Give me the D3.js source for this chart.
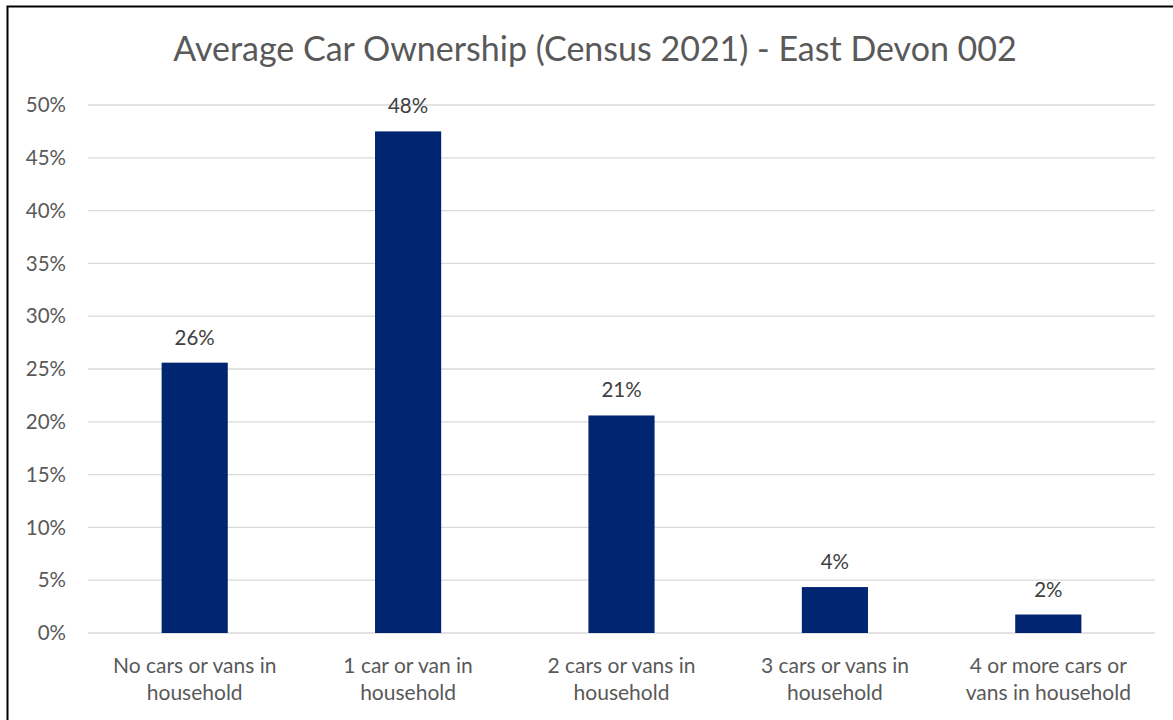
<!DOCTYPE html>
<html>
<head>
<meta charset="utf-8">
<script src="https://cdn.jsdelivr.net/npm/d3@7"></script>
<style>
  body { margin: 0; background: #fff; }
  svg { font-family: Lato, "Open Sans", sans-serif; }
</style>
</head>
<body>
<svg id="chart" width="1173" height="720"></svg>
<script>
// chart data
const title = 'Average Car Ownership (Census 2021) - East Devon 002';
const categories = [
  ['No cars or vans in', 'household'],
  ['1 car or van in', 'household'],
  ['2 cars or vans in', 'household'],
  ['3 cars or vans in', 'household'],
  ['4 or more cars or', 'vans in household']
];
const values = [25.6, 47.5, 20.6, 4.35, 1.75];
const yTicks = [0, 5, 10, 15, 20, 25, 30, 35, 40, 45, 50];

const W = 1173, H = 720;
const m = {top: 105, right: 18, bottom: 87, left: 88};

const svg = d3.select('svg#chart');

// frame: only top and left edges show in the picture
svg.append('path')
  .attr('d', `M7.5,${H}V6.5H${W}`)
  .attr('fill', 'none')
  .attr('stroke', '#000')
  .attr('stroke-width', 2);

const x = d3.scaleBand()
  .domain(d3.range(categories.length))
  .range([m.left, W - m.right])
  .paddingInner(0.69)
  .paddingOuter(0.345);

const y = d3.scaleLinear()
  .domain([0, 50])
  .range([H - m.bottom, m.top]);

// gridlines
svg.append('g')
  .selectAll('line')
  .data(yTicks)
  .join('line')
  .attr('x1', m.left)
  .attr('x2', W - m.right)
  .attr('y1', d => y(d))
  .attr('y2', d => y(d))
  .attr('stroke', '#d9d9d9')
  .attr('stroke-width', 1.3);

// y tick labels
svg.append('g')
  .selectAll('text')
  .data(yTicks)
  .join('text')
  .attr('x', 66)
  .attr('y', d => y(d))
  .attr('dy', '0.35em')
  .attr('text-anchor', 'end')
  .attr('fill', '#595959')
  .attr('font-size', 20.5)
  .text(d => d + '%');

// bars
svg.append('g')
  .selectAll('rect')
  .data(values)
  .join('rect')
  .attr('x', (d, i) => x(i))
  .attr('y', d => y(d))
  .attr('width', x.bandwidth())
  .attr('height', d => y(0) - y(d))
  .attr('fill', '#002672');

// data labels
svg.append('g')
  .selectAll('text')
  .data(values)
  .join('text')
  .attr('x', (d, i) => x(i) + x.bandwidth() / 2)
  .attr('y', d => y(d) - 18)
  .attr('text-anchor', 'middle')
  .attr('fill', '#404040')
  .attr('font-size', 20.5)
  .text(d => Math.round(d) + '%');

// category labels
const cat = svg.append('g')
  .selectAll('text')
  .data(categories)
  .join('text')
  .attr('text-anchor', 'middle')
  .attr('fill', '#595959')
  .attr('font-size', 21);
cat.selectAll('tspan')
  .data((d, i) => d.map(t => ({t, i})))
  .join('tspan')
  .attr('x', d => x(d.i) + x.bandwidth() / 2)
  .attr('y', (d, j) => 673 + j * 27)
  .text(d => d.t);

// title
svg.append('text')
  .attr('x', 595)
  .attr('y', 61)
  .attr('text-anchor', 'middle')
  .attr('fill', '#595959')
  .attr('font-size', 34)
  .text(title);
</script>
</body>
</html>
